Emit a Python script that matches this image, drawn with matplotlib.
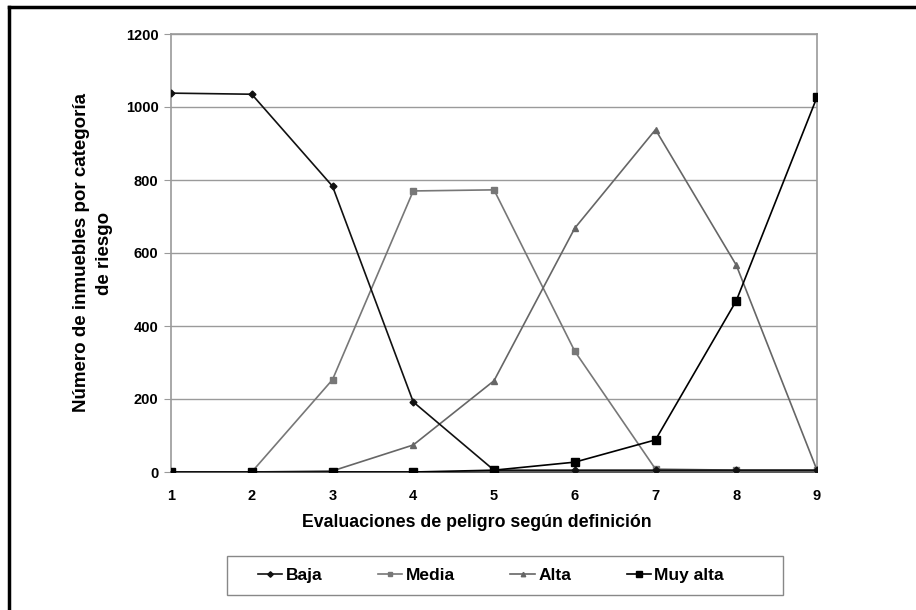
import matplotlib
matplotlib.use("Agg")
import matplotlib.pyplot as plt
from matplotlib.lines import Line2D
from matplotlib.patches import Rectangle

x = [1, 2, 3, 4, 5, 6, 7, 8, 9]
baja = [1038, 1035, 783, 192, 5, 5, 5, 5, 5]
media = [0, 0, 253, 770, 773, 331, 8, 5, 5]
alta = [0, 0, 3, 74, 250, 668, 938, 567, 5]
muy_alta = [0, 0, 0, 0, 5, 27, 88, 469, 1027]
yticks = [0, 200, 400, 600, 800, 1000, 1200]

plt.rcParams['font.family'] = ['Liberation Sans', 'DejaVu Sans']
plt.rcParams['font.weight'] = 'bold'

fig = plt.figure(figsize=(9.16, 6.10), dpi=100)
ax = fig.add_axes([171/916, 1-472/610, (817-171)/916, (472-34)/610])

grid_c = '#9a9a9a'
ax.plot(x, baja, color='#111111', lw=1.2, marker='D', ms=3.5, label='Baja', zorder=5)
ax.plot(x, media, color='#777777', lw=1.2, marker='s', ms=4, label='Media', zorder=4)
ax.plot(x, alta, color='#666666', lw=1.2, marker='^', ms=4, label='Alta', zorder=4)
ax.plot(x, muy_alta, color='#000000', lw=1.2, marker='s', ms=6, label='Muy alta', zorder=6)

ax.set_xlim(1, 9)
ax.set_ylim(0, 1200)
ax.set_yticks(yticks)
ax.set_xticks(x)
ax.yaxis.grid(True, color=grid_c, lw=1.0)
ax.set_axisbelow(True)
for s in ['left', 'right', 'top']:
    ax.spines[s].set_color(grid_c)
    ax.spines[s].set_linewidth(1.2)
ax.spines['bottom'].set_color('#555555')
ax.spines['bottom'].set_linewidth(1.4)
ax.tick_params(axis='y', length=5, color=grid_c, labelsize=10.5, pad=4)
ax.tick_params(axis='x', length=0, labelsize=10.5, pad=12)
for lab in ax.get_xticklabels() + ax.get_yticklabels():
    lab.set_fontweight('bold')

ax.set_xlabel('Evaluaciones de peligro según definición', fontsize=12.75, fontweight='bold')
ax.xaxis.set_label_coords(0.474, -0.097)
ax.set_ylabel('Número de inmuebles por categoría\nde riesgo', fontsize=13.5, fontweight='bold',
              linespacing=1.45)
ax.yaxis.set_label_coords(-0.0898, 0.5)

leg = fig.legend(loc='center left', bbox_to_anchor=(258/916, 1-575.5/610), ncol=4, frameon=False,
                 fontsize=12.5, handlelength=1.4, columnspacing=3.2, handletextpad=0.2,
                 borderpad=0, borderaxespad=0, markerscale=0.8)
for t in leg.get_texts():
    t.set_fontweight('bold')
fig.add_artist(Rectangle((227/916, 1-595/610), (783-227)/916, 39/610, transform=fig.transFigure,
                         facecolor='none', edgecolor='#888888', lw=1.0))

fig.add_artist(Line2D([9/916, 9/916], [0, 1-7/610], color='black', lw=2.5, transform=fig.transFigure))
fig.add_artist(Line2D([9/916, 1], [1-7/610, 1-7/610], color='black', lw=2.5, transform=fig.transFigure))

fig.savefig('out.png', dpi=100)
